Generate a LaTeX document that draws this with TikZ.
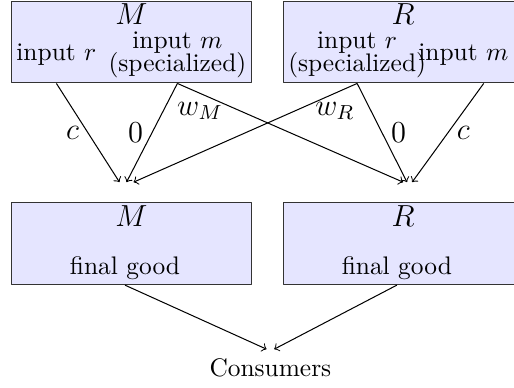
\documentclass[tikz,border=0pt]{standalone}
\begin{document}
\begin{tikzpicture}[line join=round,
    firm/.style={draw=black!80,fill=blue!10,minimum width=3.32cm,minimum height=1.13cm,anchor=north west,inner sep=0pt},
    ttl/.style={anchor=north,inner sep=1pt,font=\large},
    lab/.style={inner sep=2pt,align=center},
    price/.style={font=\large}]
    \useasboundingbox (0,0) rectangle (7.11,-5.36);
    % upstream
    \node[firm] (uM) at (0.15,-0.01) {};
    \node[firm] (uR) at (3.91,-0.01) {};
    \node[ttl] (tuM) at (uM.north) {$M$};
    \node[ttl] (tuR) at (uR.north) {$R$};
    \node[lab,anchor=south east] (mM) at (uM.south east) {input $m$\\[-3pt](specialized)};
    \node[lab,anchor=south west] (rR) at (uR.south west) {input $r$\\[-3pt](specialized)};
    \node[lab,anchor=west] (rM) at (uM.west |- mM) {input $r$};
    \node[lab,anchor=east] (mR) at (7.11,0 |- rR) {input $m$};
    % downstream
    \node[firm] (dM) at (0.15,-2.80) {};
    \node[firm] (dR) at (3.91,-2.80) {};
    \node[ttl] (tdM) at (dM.north) {$M$};
    \node[ttl] (tdR) at (dR.north) {$R$};
    \node[lab,anchor=south] (fM) at ([xshift=-2.5pt]dM.south) {final good};
    \node[lab,anchor=south] (fR) at ([xshift=-2.5pt]dR.south) {final good};
    \node[anchor=north] (cons) at (3.74,-4.83) {Consumers};
    % inputs
    \coordinate (inM) at (1.75,-2.52);
    \coordinate (inR) at (5.63,-2.52);
    \path (mR |- uR.south) ++(8pt,0) coordinate (mRout);
    \draw[->] (rM |- uM.south) -- node[price,left] {$c$} ([xshift=-2.75pt]inM);
    \draw[->] (mM.south) -- node[price,left] {$0$} (inM);
    \draw[->] (mM.south) -- node[price,pos=0.1,below] {$w_M$} ([xshift=-1.5pt]inR);
    \draw[->] (rR.south) -- node[price,pos=0.1,below] {$w_R$} ([xshift=2.75pt]inM);
    \draw[->] (rR.south) -- node[price,right] {$0$} (inR);
    \draw[->] (mRout) -- node[price,right] {$c$} ([xshift=2pt]inR);
    % final goods
    \draw[->] (fM.south) -- ([xshift=-1.5pt]cons.north);
    \draw[->] (fR.south) -- ([xshift=1.5pt]cons.north);
\end{tikzpicture}
\end{document}
